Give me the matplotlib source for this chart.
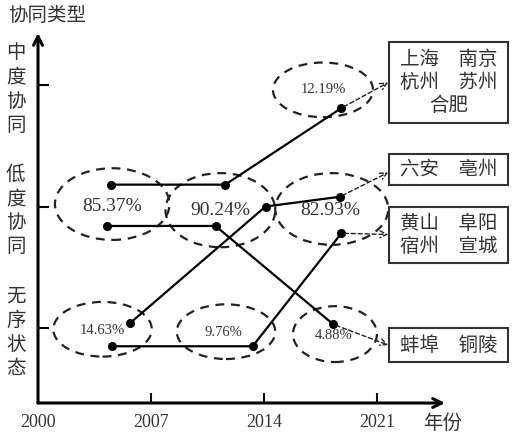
import matplotlib.pyplot as plt
from matplotlib.patches import Ellipse, Rectangle

plt.rcParams['font.family'] = ['Noto Sans CJK SC', 'DejaVu Sans']

# years / levels (1 = 无序状态, 2 = 低度协同, 3 = 中度协同)
year_ticks = [2000, 2007, 2014, 2021]
level_ticks = [1, 2, 3]
level_names = ['无序状态', '低度协同', '中度协同']

# four city groups: path of each group over the three periods
path_years = [
    [2004.5, 2011.6, 2018.8],   # 上海 南京 杭州 苏州 合肥
    [2005.7, 2014.1, 2018.7],   # 六安 亳州
    [2004.6, 2013.3, 2018.8],   # 黄山 阜阳 宿州 宣城
    [2004.3, 2011.0, 2018.3],   # 蚌埠 铜陵
]
path_levels = [
    [2.18, 2.18, 2.81],
    [1.04, 2.00, 2.08],
    [0.85, 0.85, 1.78],
    [1.84, 1.84, 1.03],
]
arrow_year = 2021.7
arrow_levels = [3.02, 2.28, 1.77, 0.86]

group_cities = [
    ['上海　南京', '杭州　苏州', '合肥'],
    ['六安　亳州'],
    ['黄山　阜阳', '宿州　宣城'],
    ['蚌埠　铜陵'],
]
box_tops = [3.354, 2.432, 1.996, 1.0]
box_bottoms = [2.687, 2.177, 1.535, 0.72]

# share of cities in each circled cluster
share_labels = ['85.37%', '90.24%', '82.93%', '12.19%', '14.63%', '9.76%', '4.88%']
share_x = [2004.6, 2011.3, 2018.1, 2017.66, 2004.0, 2011.46, 2018.34]
share_y = [2.0, 1.97, 1.97, 2.96, 0.98, 0.96, 0.94]
ell_x = [2004.6, 2011.3, 2018.2, 2017.66, 2004.0, 2011.65, 2018.4]
ell_y = [2.02, 1.97, 1.98, 2.96, 0.99, 0.97, 0.95]
ell_w = [7.1, 6.8, 7.0, 6.2, 6.1, 6.1, 5.2]
ell_h = [0.59, 0.61, 0.59, 0.45, 0.45, 0.45, 0.46]

txt = '#333333'
serif = 'Liberation Serif'

fig = plt.figure(figsize=(5.29, 4.48), dpi=100)
ax = fig.add_axes([38/529, 45/448, 407/529, 370/448])
ax.set_xlim(2000, 2025.22)
ax.set_ylim(0.383, 3.428)
for s in ax.spines.values():
    s.set_visible(False)

# axis arrows
ax.annotate('', xy=(0, 1), xytext=(0, 0), xycoords='axes fraction',
            arrowprops=dict(arrowstyle='->', lw=2.2, mutation_scale=16, shrinkA=0, shrinkB=0))
ax.annotate('', xy=(1, 0), xytext=(0, 0), xycoords='axes fraction',
            arrowprops=dict(arrowstyle='->', lw=2.2, mutation_scale=16, shrinkA=0, shrinkB=0))

ax.set_xticks(year_ticks)
ax.set_xticklabels([str(y) for y in year_ticks], fontfamily=serif, fontsize=13, color=txt)
ax.tick_params(axis='x', direction='in', length=7, width=1.5, pad=8)
ax.xaxis.get_major_ticks()[0].tick1line.set_visible(False)

ax.set_yticks(level_ticks)
ax.set_yticklabels(['\n'.join(n) for n in level_names], fontsize=14, color=txt,
                   linespacing=1.2)
ax.tick_params(axis='y', direction='in', length=8, width=1.5, pad=9)

# paths
for xs, ys, ay in zip(path_years, path_levels, arrow_levels):
    ax.plot(xs, ys, color='black', lw=1.6, marker='o', markersize=5.5, zorder=3)
    ax.annotate('', xy=(arrow_year, ay), xytext=(xs[-1], ys[-1]),
                arrowprops=dict(arrowstyle='->', lw=1.0, ls=(0, (3, 2)), color='#222222',
                                mutation_scale=12, shrinkA=2, shrinkB=0),
                annotation_clip=False)

# dashed ellipses with shares
for i, lab in enumerate(share_labels):
    ax.add_patch(Ellipse((ell_x[i], ell_y[i]), ell_w[i], ell_h[i], fill=False,
                         ec='#222222', lw=1.6, ls=(0, (4, 3)), clip_on=False))
    big = i < 3
    ax.text(share_x[i], share_y[i], lab, fontfamily=serif, fontsize=14 if big else 10.5,
            color=txt, ha='center', va='center')

# city boxes
box_left, box_right = 2021.75, 2029.12
for cities, top, bot in zip(group_cities, box_tops, box_bottoms):
    ax.add_patch(Rectangle((box_left, bot), box_right - box_left, top - bot, fill=False,
                           ec='#333333', lw=1.5, clip_on=False))
    ax.text((box_left + box_right) / 2, (top + bot) / 2, '\n'.join(cities), fontsize=14,
            color=txt, ha='center', va='center', linespacing=1.15, clip_on=False)

fig.text(8/529, 1 - 15/448, '协同类型', fontsize=14, color=txt, ha='left', va='center')
fig.text(443/529, 1 - 423/448, '年份', fontsize=14, color=txt, ha='center', va='center')

fig.savefig('out.png', dpi=100)
